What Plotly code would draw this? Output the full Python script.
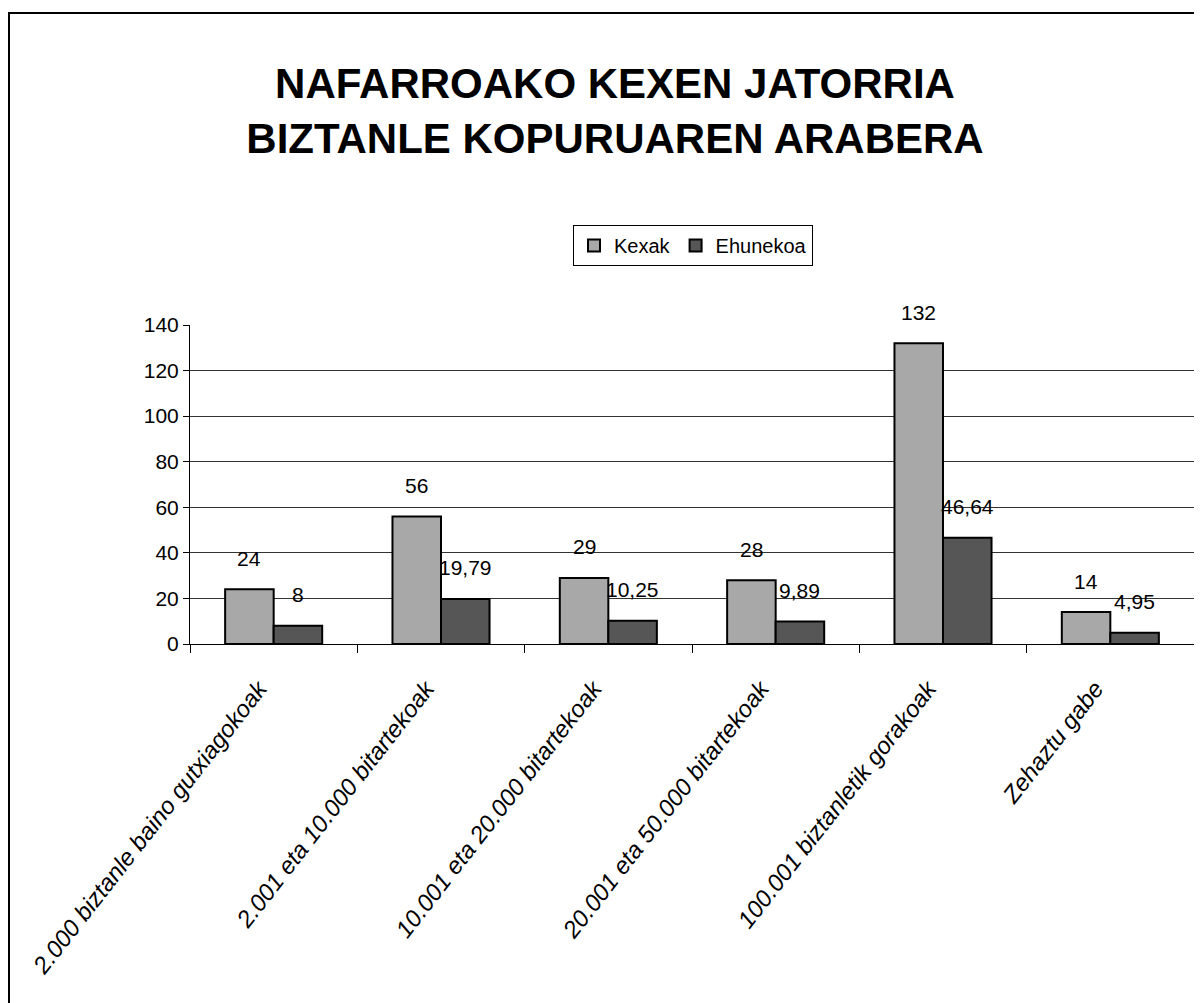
import plotly.graph_objects as go

categories = [
    "2.000 biztanle baino gutxiagokoak",
    "2.001 eta 10.000 bitartekoak",
    "10.001 eta 20.000 bitartekoak",
    "20.001 eta 50.000 bitartekoak",
    "100.001 biztanletik gorakoak",
    "Zehaztu gabe",
]
kexak = [24, 56, 29, 28, 132, 14]
ehunekoa = [8, 19.79, 10.25, 9.89, 46.64, 4.95]
y_ticks = [0, 20, 40, 60, 80, 100, 120, 140]
title_lines = ["NAFARROAKO KEXEN JATORRIA", "BIZTANLE KOPURUAREN ARABERA"]

W, H = 1202, 1003
ML, MR, MT, MB = 182, 16, 317, 367
BARGAP = 0.42
FONT = "Liberation Sans, Arial, sans-serif"

plot_w = W - ML - MR
plot_h = H - MT - MB
cat_w = plot_w / len(categories)
bar_w = cat_w * (1 - BARGAP) / 2


def fmt(v):
    return ("%g" % v).replace(".", ",")


fig = go.Figure()
fig.add_bar(x=categories, y=kexak, name="Kexak",
            marker=dict(color="#a8a8a8", line=dict(color="black", width=2)))
fig.add_bar(x=categories, y=ehunekoa, name="Ehunekoa",
            marker=dict(color="#565656", line=dict(color="black", width=2)))

annotations = []
for series, shift in ((kexak, -bar_w / 2), (ehunekoa, bar_w / 2)):
    for c, v in zip(categories, series):
        annotations.append(dict(
            x=c, y=v, xref="x", yref="y", text=fmt(v), showarrow=False,
            xshift=shift, yshift=31, yanchor="middle", xanchor="center",
            font=dict(family=FONT, size=21, color="black")))

fig.update_layout(
    width=W, height=H,
    margin=dict(l=ML, r=MR, t=MT, b=MB, autoexpand=False),
    paper_bgcolor="white", plot_bgcolor="white",
    barmode="group", bargap=BARGAP, bargroupgap=0,
    title=dict(text="<br>".join(title_lines), x=607 / W, xanchor="center",
               xref="container", y=1 - 90 / H, yanchor="top", yref="container",
               font=dict(family=FONT, size=42, color="black", weight="bold")),
    legend=dict(orientation="h", x=(685 - ML) / plot_w, y=(H - MB - 237.5) / plot_h,
                xanchor="center", yanchor="middle", bordercolor="black", borderwidth=1,
                bgcolor="white", font=dict(family=FONT, size=20, color="black"),
                traceorder="normal"),
    annotations=annotations,
    showlegend=True,
)
fig.update_xaxes(showline=True, linecolor="black", linewidth=1,
                 ticks="outside", tickson="boundaries", ticklen=8, tickcolor="black",
                 tickangle=-52, ticklabelstandoff=20, ticklabelshift=-15,
                 tickfont=dict(family=FONT, size=24, color="black", style="italic"),
                 showgrid=False)
fig.update_yaxes(range=[0, 140], tickvals=y_ticks, showline=True, mirror=True,
                 linecolor="black", linewidth=1, ticks="outside", ticklen=6,
                 tickcolor="black", gridcolor="#333333", gridwidth=1,
                 tickfont=dict(family=FONT, size=21, color="black"), zeroline=False)

fig.add_shape(type="rect", xref="paper", yref="paper",
              x0=(1 - ML) / plot_w, x1=(W + 10 - ML) / plot_w,
              y0=(H - MB - (H + 10)) / plot_h, y1=(H - MB - 5) / plot_h,
              line=dict(color="black", width=2), fillcolor="rgba(0,0,0,0)", layer="below")

fig.write_html("out.html")
